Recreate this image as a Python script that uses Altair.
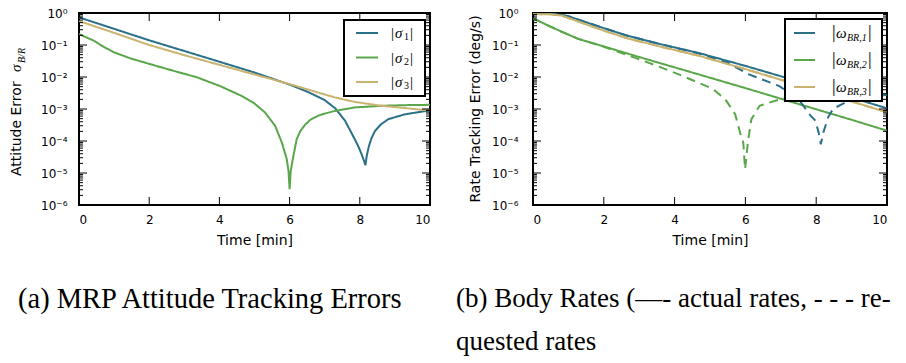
import altair as alt
import pandas as pd

# ---------------- data ----------------
# (a) MRP attitude tracking errors
SIG1_T = [0, 1, 2, 3, 4, 5, 6, 6.5, 7, 7.3, 7.58, 7.86, 7.95, 8.05, 8.12, 8.16, 8.2, 8.26, 8.33, 8.43, 8.6, 8.81, 9.28, 10]
SIG1_V = [0.73, 0.32, 0.14, 0.065, 0.030, 0.0138, 0.0058, 0.0035, 0.0019, 0.00105, 0.00043, 0.000112, 0.000071,
          0.000039, 0.000024, 0.0000174, 0.0000355, 0.000069, 0.00012, 0.000204, 0.00033, 0.00048, 0.00068, 0.00091]
SIG2_T = [0, 0.43, 0.7, 1.0, 1.47, 2.04, 2.7, 3.36, 4.02, 4.59, 4.97, 5.3, 5.59, 5.78, 5.92, 5.97, 6.0, 6.03, 6.09,
          6.2, 6.3, 6.44, 6.6, 6.82, 7.0, 7.29, 7.86, 8.62, 9.3, 10]
SIG2_V = [0.22, 0.135, 0.088, 0.059, 0.038, 0.025, 0.0155, 0.0098, 0.0052, 0.0027, 0.00158, 0.00078, 0.000295,
          0.000089, 0.0000269, 0.0000112, 0.0000031, 0.0000112, 0.0000269, 0.000112, 0.00020, 0.00032, 0.00047,
          0.00062, 0.00072, 0.00087, 0.00112, 0.00126, 0.00132, 0.00135]
SIG3_T = [0, 1, 2, 3, 4, 5, 6, 6.72, 7.29, 7.86, 8.62, 9.28, 10]
SIG3_V = [0.56, 0.24, 0.100, 0.048, 0.024, 0.012, 0.0060, 0.0035, 0.0023, 0.00166, 0.00126, 0.00107, 0.00089]

# (b) body rates, actual (solid)
W1_T = [0, 0.5, 0.81, 1.0, 1.28, 2.02, 2.67, 3.59, 4.69, 5.99, 7.1, 10]
W1_V = [0.98, 0.95, 0.87, 0.79, 0.62, 0.33, 0.195, 0.107, 0.056, 0.0224, 0.0098, 0.00105]
W2_T = [0, 0.4, 0.81, 1.28, 2.02, 3.0, 4.0, 5.0, 6.0, 7.0, 8.0, 9.0, 10]
W2_V = [0.68, 0.42, 0.26, 0.155, 0.089, 0.042, 0.020, 0.0095, 0.0045, 0.0021, 0.00098, 0.00046, 0.00021]
W3_T = [0, 0.5, 0.81, 1.28, 2.02, 2.67, 3.59, 4.69, 5.99, 7.1, 10]
W3_V = [0.93, 0.91, 0.83, 0.54, 0.275, 0.162, 0.089, 0.046, 0.0178, 0.0076, 0.00079]

# (b) body rates, requested (dashed)
W1R_T = [0, 0.5, 1.0, 1.28, 2.02, 2.67, 3.59, 4.69, 5.5, 6.08, 6.96, 7.5, 7.84, 7.98, 8.07, 8.13, 8.2, 8.34, 8.48, 9, 10]
W1R_V = [0.98, 0.95, 0.79, 0.62, 0.33, 0.195, 0.107, 0.054, 0.028, 0.0123, 0.0052, 0.0020, 0.00062, 0.00043,
         0.000182, 0.000079, 0.000182, 0.00056, 0.00102, 0.0020, 0.0028]
W2R_T = [0, 0.4, 0.81, 1.28, 2.02, 2.85, 3.45, 4.1, 4.69, 5.06, 5.43, 5.71, 5.85, 5.94, 5.99, 6.08, 6.17, 6.4,
         6.82, 7.1, 8, 9, 10]
W2R_V = [0.68, 0.42, 0.26, 0.155, 0.087, 0.041, 0.0234, 0.0123, 0.0065, 0.0044, 0.00204, 0.00069, 0.000182,
         0.000089, 0.0000132, 0.000112, 0.00048, 0.00126, 0.00178, 0.00214, 0.0025, 0.0027, 0.0028]
W3R_T = [0, 0.5, 0.81, 1.28, 2.02, 2.67, 3.59, 4.69, 5.99, 7.1, 10]
W3R_V = [0.93, 0.91, 0.83, 0.54, 0.275, 0.162, 0.089, 0.046, 0.0178, 0.0076, 0.00079]

# axis ticks
X_LABELS = [0, 2, 4, 6, 8, 10]
X_INNER = [2, 4, 6, 8]
Y_MAJOR = [1e-6, 1e-5, 1e-4, 1e-3, 1e-2, 1e-1, 1]
Y_INNER = [1e-5, 1e-4, 1e-3, 1e-2, 1e-1]
Y_MINOR = [k * m for m in [1e-6, 1e-5, 1e-4, 1e-3, 1e-2, 1e-1] for k in range(2, 10)]

SIG_NAMES = ["s1", "s2", "s3"]
OMG_NAMES = ["w1", "w2", "w3"]

# ---------------- styling ----------------
W1, W2, H = 351, 354, 192
SPACING = 103
TEAL, GREEN, GOLD = "#2a7089", "#5aa64a", "#c9b36f"
COLORS = [TEAL, GREEN, GOLD]
SANS = "DejaVu Sans"
SERIF = "Liberation Serif"

xscale = alt.Scale(domain=[0, 10], nice=False)
yscale = alt.Scale(type="log", domain=[1e-6, 1], nice=False)

label_expr = ("datum.value > 0.5 ? '10⁰' : datum.value > 0.05 ? '10⁻¹' : datum.value > 0.005 ? '10⁻²' : "
              "datum.value > 0.0005 ? '10⁻³' : datum.value > 0.00005 ? '10⁻⁴' : "
              "datum.value > 0.000005 ? '10⁻⁵' : '10⁻⁶'")

X_AXIS = alt.Axis(values=X_LABELS, format="d", title="Time [min]", labelPadding=9, titlePadding=8)


def y_axis(pad):
    return alt.Axis(values=Y_MAJOR, labelExpr=label_expr, title="", labelPadding=pad)


dummy = pd.DataFrame({"d": [0]})


def frame(series, kind, ts, vs):
    return pd.DataFrame({"t": ts, "value": vs, "series": series, "kind": kind})


def lines(df, names, yax):
    return alt.Chart(df).mark_line(strokeWidth=2, clip=True).encode(
        x=alt.X("t:Q", scale=xscale, axis=X_AXIS),
        y=alt.Y("value:Q", scale=yscale, axis=yax),
        color=alt.Color("series:N", scale=alt.Scale(domain=names, range=COLORS), legend=None),
        strokeDash=alt.StrokeDash("kind:N", scale=alt.Scale(domain=["actual", "requested"],
                                                            range=[[1, 0], [9, 6]]), legend=None),
    )


def ticks(W, yax):
    out = []
    dx = pd.DataFrame({"v": X_INNER})
    for y0, y1 in [(H, H - 8), (0, 8)]:
        out.append(alt.Chart(dx).mark_rule(color="black", strokeWidth=1).encode(
            x=alt.X("v:Q", scale=xscale, axis=X_AXIS), y=alt.value(y0), y2=alt.value(y1)))
    for vals, ln in [(Y_INNER, 8), (Y_MINOR, 4)]:
        dy = pd.DataFrame({"v": vals})
        for x0, x1 in [(0, ln), (W - ln, W)]:
            out.append(alt.Chart(dy).mark_rule(color="black", strokeWidth=1).encode(
                y=alt.Y("v:Q", scale=yscale, axis=yax), x=alt.value(x0), x2=alt.value(x1)))
    return out


def txt(s, x, y, size, font=SANS, style="normal", align="left", baseline="middle", angle=0):
    return alt.Chart(dummy).mark_text(text=s, fontSize=size, font=font, fontStyle=style, align=align,
                                      baseline=baseline, angle=angle, color="black").encode(
        x=alt.value(x), y=alt.value(y))


def box(x0, x1, y0, y1):
    return alt.Chart(dummy).mark_rect(fill="white", stroke="black", strokeWidth=2).encode(
        x=alt.value(x0), x2=alt.value(x1), y=alt.value(y0), y2=alt.value(y1))


def swatch(x0, x1, y, c):
    return alt.Chart(dummy).mark_rule(color=c, strokeWidth=2).encode(
        x=alt.value(x0), x2=alt.value(x1), y=alt.value(y))


# ---------------- panel (a) ----------------
df_a = pd.concat([frame("s1", "actual", SIG1_T, SIG1_V),
                  frame("s2", "actual", SIG2_T, SIG2_V),
                  frame("s3", "actual", SIG3_T, SIG3_V)])
ya = y_axis(12)
layers_a = [lines(df_a, SIG_NAMES, ya)] + ticks(W1, ya)
oa = W1 - 352
layers_a.append(box(266 + oa, 347 + oa, 7, 83))
for i, (c, sub) in enumerate(zip(COLORS, ["1", "2", "3"])):
    ry = 20 + i * 24.5
    layers_a += [swatch(278 + oa, 300 + oa, ry, c),
                 txt("|", 313 + oa, ry, 15, SERIF),
                 txt("σ", 317 + oa, ry, 15, SERIF, "italic"),
                 txt(sub, 326 + oa, ry + 4, 10, SERIF),
                 txt("|", 332 + oa, ry, 15, SERIF)]
# y title with subscript
layers_a += [txt("Attitude Error", -58, 163, 14, SANS, align="left", baseline="alphabetic", angle=270),
             txt("σ", -58, 59, 15, SERIF, "italic", align="left", baseline="alphabetic", angle=270),
             txt("B/R", -54, 50, 10, SERIF, "italic", align="left", baseline="alphabetic", angle=270)]
# caption (a)
layers_a.append(txt("(a) MRP Attitude Tracking Errors", -61, 286, 28.5, SERIF))
panel_a = alt.layer(*layers_a).properties(width=W1, height=H)

# ---------------- panel (b) ----------------
df_b = pd.concat([frame("w1", "actual", W1_T, W1_V),
                  frame("w2", "actual", W2_T, W2_V),
                  frame("w3", "actual", W3_T, W3_V),
                  frame("w1", "requested", W1R_T, W1R_V),
                  frame("w2", "requested", W2R_T, W2R_V),
                  frame("w3", "requested", W3R_T, W3R_V)])
yb = y_axis(15)
layers_b = [lines(df_b, OMG_NAMES, yb)] + ticks(W2, yb)
ob = W2 - 360
layers_b.append(box(258 + ob, 355 + ob, 6, 88))
for i, (c, sub) in enumerate(zip(COLORS, ["BR,1", "BR,2", "BR,3"])):
    ry = 20 + i * 27
    layers_b += [swatch(267 + ob, 288 + ob, ry, c),
                 txt("|", 305 + ob, ry, 18, SERIF),
                 txt("ω", 309 + ob, ry, 15, SERIF, "italic"),
                 txt(sub, 320 + ob, ry + 5, 10, SERIF, "italic"),
                 txt("|", 341 + ob, ry, 18, SERIF)]
layers_b.append(txt("Rate Tracking Error (deg/s)", -53, H / 2, 14, SANS, align="center",
                    baseline="alphabetic", angle=270))
layers_b += [txt("(b) Body Rates (—- actual rates, - - - re-", -77, 286, 27, SERIF),
             txt("quested rates", -77, 329, 27, SERIF)]
panel_b = alt.layer(*layers_b).properties(width=W2, height=H)

chart = alt.hconcat(panel_a, panel_b, spacing=SPACING, bounds="flush").properties(
    padding={"left": 0, "top": -2, "right": 0, "bottom": 0}
).configure_view(stroke="black", strokeWidth=2).configure_axis(
    labelFont=SANS, labelFontSize=12, labelColor="black", titleFont=SANS, titleFontSize=14,
    titleColor="black", titleFontWeight="normal", grid=False, ticks=False, domain=False
)

chart.save("out.html", embed_options={"renderer": "svg", "actions": False})
